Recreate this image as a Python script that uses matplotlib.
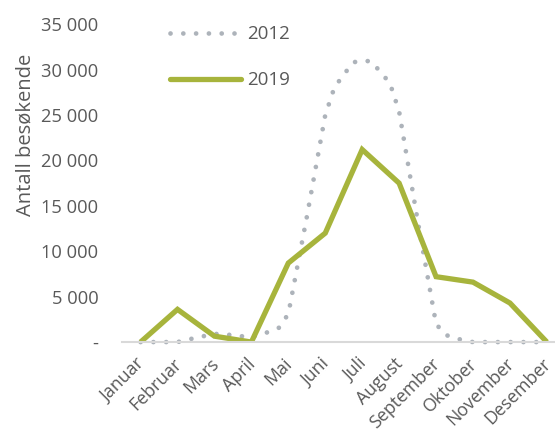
import matplotlib
matplotlib.use('Agg')
import matplotlib.pyplot as plt
import matplotlib.transforms as mtransforms
from matplotlib.path import Path
from matplotlib.lines import Line2D
from matplotlib.ticker import FuncFormatter

plt.rcParams['font.family'] = ['Open Sans', 'DejaVu Sans']

# data
months = ['Januar', 'Februar', 'Mars', 'April', 'Mai', 'Juni', 'Juli',
          'August', 'September', 'Oktober', 'November', 'Desember']
visitors_2012 = [0, 0, 900, 600, 3100, 25000, 31000, 25400, 2000, 0, 0, 0]
visitors_2019 = [0, 3600, 650, 0, 8700, 12000, 21200, 17500, 7200, 6600, 4300, 0]

green = '#a7b43c'
grey = '#adb3ba'
text_col = '#595959'


def smooth_path(xs, ys):
    # excel style smoothed line: cubic bezier through every point,
    # control points kept inside each segment so the curve does not overshoot
    n = len(xs)
    verts = [(xs[0], ys[0])]
    codes = [Path.MOVETO]
    for i in range(n - 1):
        x0, y0 = xs[max(i - 1, 0)], ys[max(i - 1, 0)]
        x1, y1 = xs[i], ys[i]
        x2, y2 = xs[i + 1], ys[i + 1]
        x3, y3 = xs[min(i + 2, n - 1)], ys[min(i + 2, n - 1)]
        lo, hi = min(y1, y2), max(y1, y2)
        c1 = (x1 + (x2 - x0) / 6, min(max(y1 + (y2 - y0) / 6, lo), hi))
        c2 = (x2 - (x3 - x1) / 6, min(max(y2 - (y3 - y1) / 6, lo), hi))
        verts += [c1, c2, (x2, y2)]
        codes += [Path.CURVE4] * 3
    return Path(verts, codes)


fig = plt.figure(figsize=(5.55, 4.33), dpi=100)
ax = fig.add_axes([0.22, 0.21, 0.78, 0.734])

x = list(range(len(months)))
curve = smooth_path(x, visitors_2012).to_polygons(closed_only=False)[0]
dots = (0, (0.01, 2.7))
ax.plot(curve[:, 0], curve[:, 1], color=grey, lw=3.4, linestyle=dots,
        dash_capstyle='round', clip_on=False)
ax.plot(x, visitors_2019, color=green, lw=3.8, solid_joinstyle='miter',
        solid_capstyle='butt')

ax.set_xlim(-0.5, 11.22)
ax.set_ylim(0, 35000)
ax.set_yticks(range(0, 35001, 5000))
ax.yaxis.set_major_formatter(FuncFormatter(
    lambda v, p: '-' if v == 0 else f'{int(v):,}'.replace(',', ' ')))
ax.set_xticks(x)

for s in ['top', 'right', 'left']:
    ax.spines[s].set_visible(False)
ax.spines['bottom'].set_color('#d9d9d9')
ax.spines['bottom'].set_linewidth(1.5)
ax.tick_params(axis='both', length=0, colors=text_col)
ax.tick_params(axis='y', pad=17, labelsize=13.2)
ax.tick_params(axis='x', pad=7, labelsize=12.8)

ax.set_xticklabels(months, rotation=45, ha='right', rotation_mode='anchor')
# nudge the slanted month labels a little left/down like the original
shift = mtransforms.ScaledTranslation(-0.05, -0.03, fig.dpi_scale_trans)
for lab in ax.get_xticklabels():
    lab.set_transform(lab.get_transform() + shift)

ax.set_ylabel('Antall besøkende', color=text_col, fontsize=14.5)
ax.yaxis.set_label_coords(-0.199, 0.652)

handles = [Line2D([], [], color=grey, lw=3.4, linestyle=dots,
                  dash_capstyle='round'),
           Line2D([], [], color=green, lw=3.8, solid_capstyle='round')]
leg = ax.legend(handles, ['2012', '2019'], loc='upper left',
                bbox_to_anchor=(0.072, 1.05), frameon=False, fontsize=13.5,
                handlelength=3.8, labelspacing=1.5, handletextpad=0.3)
for t in leg.get_texts():
    t.set_color(text_col)

fig.savefig('out.png', dpi=100)
